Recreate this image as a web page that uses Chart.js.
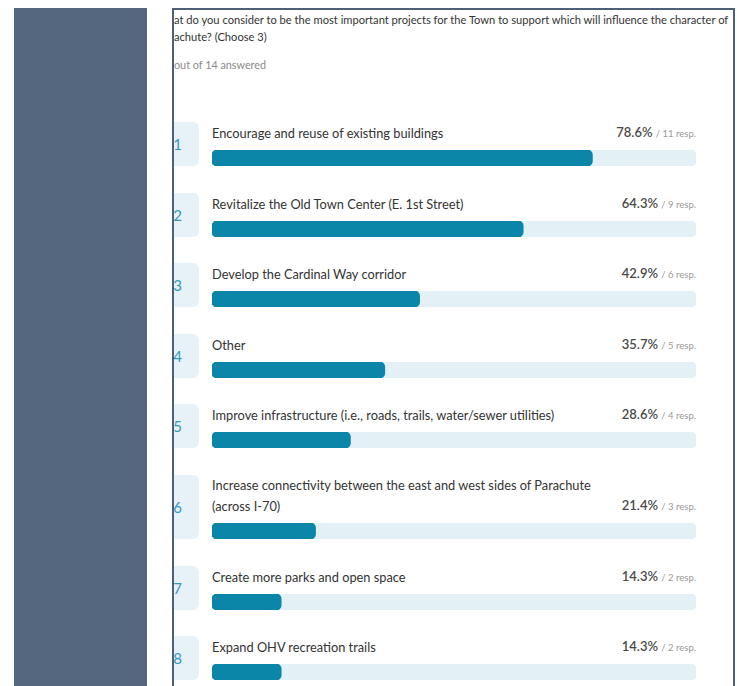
<!DOCTYPE html>
<html>
<head>
<meta charset="utf-8">
<script src="https://cdn.jsdelivr.net/npm/chart.js@4/dist/chart.umd.min.js"></script>
<style>
  html, body { margin: 0; padding: 0; background: #fff; width: 737px; height: 686px; overflow: hidden; font-family: 'Lato', sans-serif; }
  .side { position: absolute; left: 14px; top: 8px; width: 133px; height: 700px; background: #54677f; }
  .card { position: absolute; left: 172px; top: 8px; width: 559px; height: 720px; border: 2px solid #4e5f78; overflow: hidden; background: #fff; }
  .q { position: absolute; left: 0; top: 1px; font-size: 11.15px; line-height: 17px; color: #333; white-space: nowrap; }
  .answered { position: absolute; left: 0; top: 46px; font-size: 10.8px; line-height: 17px; color: #8a8a8a; white-space: nowrap; }
  .rows { position: absolute; left: -18px; top: 112px; width: 560px; }
  .row { display: flex; margin-bottom: 26.6px; }
  .badge { width: 43px; flex: none; background: #e6f2f7; border-radius: 6px; display: flex; align-items: center; justify-content: center; color: #3599be; font-size: 15px; }
  .body { margin-left: 13px; width: 484px; }
  .head { display: flex; align-items: flex-end; justify-content: space-between; }
  .label { font-size: 12.8px; line-height: 21px; color: #333; max-width: 390px; }
  .pct { font-size: 13px; line-height: 21px; color: #4a4a4a; white-space: nowrap; }
  .pct b { font-weight: 600; }
  .pct span { font-size: 9.5px; color: #999; }
  canvas { display: block; margin-top: 6px; }
</style>
</head>
<body>
<div class="side"></div>
<div class="card">
  <div class="q">
    <div>at do you consider to be the most important projects for the Town to support which will influence the character of</div>
    <div>achute? (Choose 3)</div>
  </div>
  <div class="answered">out of 14 answered</div>
  <div class="rows" id="rows"></div>
</div>
<script>
const categories = [
  'Encourage and reuse of existing buildings',
  'Revitalize the Old Town Center (E. 1st Street)',
  'Develop the Cardinal Way corridor',
  'Other',
  'Improve infrastructure (i.e., roads, trails, water/sewer utilities)',
  'Increase connectivity between the east and west sides of Parachute (across I-70)',
  'Create more parks and open space',
  'Expand OHV recreation trails'
];
const percents = [78.6, 64.3, 42.9, 35.7, 28.6, 21.4, 14.3, 14.3];
const responses = [11, 9, 6, 5, 4, 3, 2, 2];

const BAR = '#0b86a9';
const TRACK = '#e3f0f5';

const rowsEl = document.getElementById('rows');
categories.forEach((cat, i) => {
  const row = document.createElement('div');
  row.className = 'row';
  row.innerHTML =
    '<div class="badge">' + (i + 1) + '</div>' +
    '<div class="body"><div class="head"><div class="label">' + cat + '</div>' +
    '<div class="pct"><b>' + percents[i].toFixed(1) + '%</b> <span>/ ' + responses[i] + ' resp.</span></div></div>' +
    '<canvas width="484" height="16"></canvas></div>';
  rowsEl.appendChild(row);
  const ctx = row.querySelector('canvas');
  new Chart(ctx, {
    type: 'bar',
    data: {
      labels: [cat],
      datasets: [
        { data: [percents[i]], backgroundColor: BAR, borderRadius: 5, borderSkipped: false, grouped: false, order: 0, barPercentage: 1, categoryPercentage: 1 },
        { data: [100], backgroundColor: TRACK, borderRadius: 5, borderSkipped: false, grouped: false, order: 1, barPercentage: 1, categoryPercentage: 1 }
      ]
    },
    options: {
      indexAxis: 'y',
      responsive: false,
      animation: false,
      layout: { padding: 0 },
      plugins: { legend: { display: false }, tooltip: { enabled: false } },
      scales: {
        x: { min: 0, max: 100, display: false },
        y: { display: false }
      }
    }
  });
});
</script>
</body>
</html>
